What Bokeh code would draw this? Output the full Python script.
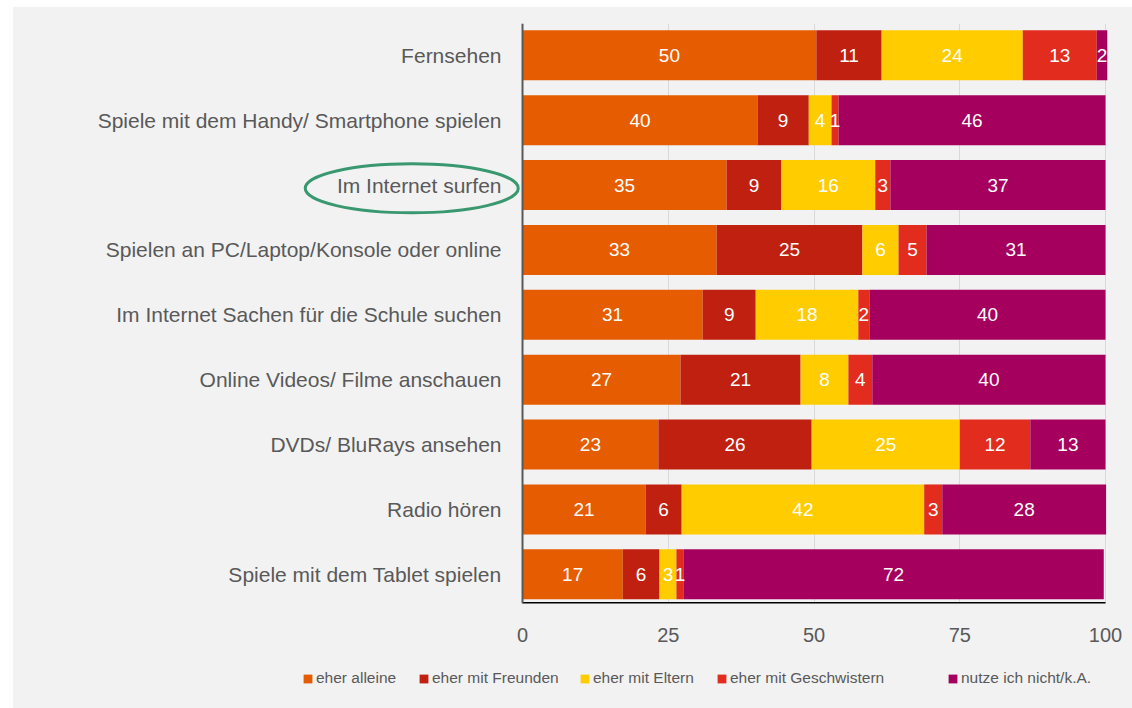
from bokeh.plotting import figure
from bokeh.layouts import column
from bokeh.models import ColumnDataSource, Range1d, FixedTicker, Legend, LegendItem, Span
from bokeh.core.properties import value
from bokeh.embed import file_html
from bokeh.resources import INLINE

categories = [
    "Fernsehen",
    "Spiele mit dem Handy/ Smartphone spielen",
    "Im Internet surfen",
    "Spielen an PC/Laptop/Konsole oder online",
    "Im Internet Sachen für die Schule suchen",
    "Online Videos/ Filme anschauen",
    "DVDs/ BluRays ansehen",
    "Radio hören",
    "Spiele mit dem Tablet spielen",
]
series_names = ["eher alleine", "eher mit Freunden", "eher mit Eltern",
                "eher mit Geschwistern", "nutze ich nicht/k.A."]
alleine = [50.4, 40.3, 35.0, 33.3, 30.9, 27.1, 23.3, 21.1, 17.2]
freunde = [11.2, 8.8, 9.4, 25.0, 9.1, 20.6, 26.3, 6.2, 6.3]
eltern = [24.2, 3.9, 16.1, 6.2, 17.6, 8.2, 25.4, 41.6, 2.9]
geschwister = [12.7, 1.2, 2.6, 4.8, 1.9, 4.1, 12.1, 3.1, 1.2]
nicht = [1.8, 45.8, 36.9, 30.7, 40.5, 40.0, 12.9, 28.1, 72.1]
x_ticks = [0, 25, 50, 75, 100]
highlight = "Im Internet surfen"

colors = ["#E65C00", "#C0200F", "#FFCC00", "#E12C1E", "#A5005E"]
keys = ["alleine", "freunde", "eltern", "geschwister", "nicht"]
values = [alleine, freunde, eltern, geschwister, nicht]

ys = list(range(1, len(categories) + 1))
src = ColumnDataSource(dict(y=ys, cat=categories, **{k: v for k, v in zip(keys, values)}))

FONT = "Liberation Sans"
BG = "#F2F2F2"
Y_BOTTOM, Y_TOP = 9.45, 0.51

p = figure(width=1119, height=648,
           x_range=Range1d(-87.31, 102.57), y_range=Range1d(Y_BOTTOM, Y_TOP),
           output_backend="svg", toolbar_location=None, y_axis_location=None,
           min_border_left=0, min_border_right=12, min_border_top=16,
           min_border_bottom=52)
p.background_fill_color = BG
p.border_fill_color = BG
p.outline_line_color = None

p.xaxis.ticker = FixedTicker(ticks=x_ticks)
p.xaxis.axis_line_color = None
p.xaxis.major_tick_line_color = None
p.xaxis.minor_tick_line_color = None
p.xaxis.major_label_text_font = FONT
p.xaxis.major_label_text_font_size = "20px"
p.xaxis.major_label_text_color = "#595959"
p.xaxis.major_label_standoff = 18
p.xgrid.ticker = FixedTicker(ticks=x_ticks)
p.xgrid.grid_line_color = "#D9D9D9"
p.ygrid.grid_line_color = None

p.hbar_stack(keys, y="y", height=0.77, color=colors, line_color=None, source=src)

# value labels
lx, ly, lt = [], [], []
for i, y in enumerate(ys):
    cum = 0.0
    for vals in values:
        v = vals[i]
        lx.append(cum + v / 2)
        ly.append(y)
        lt.append(str(int(round(v))))
        cum += v
p.text(x="x", y="y", text="t", source=ColumnDataSource(dict(x=lx, y=ly, t=lt)),
       text_color="white", text_font=value(FONT), text_font_size=value("19px"),
       text_align="center", text_baseline="middle")

# category labels
p.text(x=0, y="y", text="cat", source=src, x_offset=-21,
       text_color="#595959", text_font=value(FONT), text_font_size=value("21px"),
       text_align="right", text_baseline="middle")

# highlight ellipse
hy = categories.index(highlight) + 1
p.ellipse(x=[-19.0], y=[hy + 0.05], width=213, height=49,
          width_units="screen", height_units="screen",
          fill_color=None, line_color="#3A9870", line_width=3)

# axis lines
p.segment(x0=[0], y0=[Y_BOTTOM], x1=[100], y1=[Y_BOTTOM], line_color="black", line_width=3)
p.add_layout(Span(location=0, dimension="height", line_color="#595959", line_width=2))

# legend strip
p2 = figure(width=1119, height=53, x_range=Range1d(0, 1119), y_range=Range1d(0, 53),
            output_backend="svg", toolbar_location=None,
            x_axis_location=None, y_axis_location=None,
            min_border_left=0, min_border_right=0, min_border_top=0, min_border_bottom=0)
p2.background_fill_color = BG
p2.border_fill_color = BG
p2.outline_line_color = None
p2.grid.visible = False
dummies = [p2.hbar(y=[-100], left=[0], right=[1], height=1, color=c, line_color=None)
           for c in colors]
legend_x = [289, 405, 566, 703, 934]
for n, r, lxp in zip(series_names, dummies, legend_x):
    lg = Legend(items=[LegendItem(label=n, renderers=[r])],
                orientation="horizontal", location=(lxp, 21), margin=0, padding=0,
                label_text_font=FONT, label_text_font_size="15.5px",
                label_text_color="#595959",
                glyph_width=11, glyph_height=11, label_standoff=3, spacing=0,
                border_line_color=None, background_fill_alpha=0)
    p2.add_layout(lg, "center")

layout = column(p, p2, spacing=0, margin=(7, 0, 0, 13),
                styles={"background-color": BG})
open("out.html", "w").write(file_html(layout, INLINE))
